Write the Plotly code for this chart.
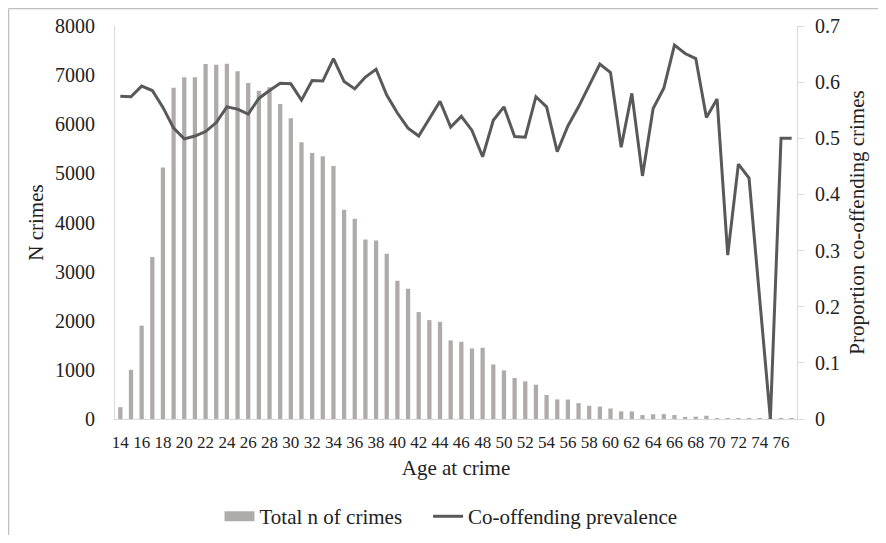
import plotly.graph_objects as go

ages = list(range(14, 78))
n_crimes = [240, 1000, 1900, 3300, 5120, 6745, 6955, 6955, 7226, 7213, 7233, 7077,
            6840, 6683, 6752, 6413, 6122, 5633, 5416, 5348, 5152, 4257, 4074, 3653,
            3633, 3362, 2813, 2650, 2176, 2013, 1979, 1600, 1572, 1436, 1450, 1111,
            989, 834, 766, 698, 488, 399, 396, 323, 270, 252, 213, 155, 155, 80,
            97, 100, 81, 40, 47, 67, 5, 12, 12, 6, 6, 2, 2, 2]
co_offending = [0.575, 0.574, 0.593, 0.585, 0.555, 0.518, 0.499, 0.504, 0.512, 0.528,
                0.556, 0.552, 0.543, 0.571, 0.585, 0.598, 0.597, 0.568, 0.603, 0.602,
                0.642, 0.601, 0.588, 0.609, 0.623, 0.577, 0.545, 0.518, 0.504, 0.536,
                0.566, 0.520, 0.539, 0.514, 0.467, 0.532, 0.556, 0.503, 0.502, 0.574,
                0.556, 0.476, 0.522, 0.556, 0.593, 0.632, 0.617, 0.484, 0.580, 0.433,
                0.553, 0.589, 0.666, 0.651, 0.642, 0.537, 0.570, 0.292, 0.454, 0.429,
                0.214, 0.0, 0.5, 0.5]
x_ticks = list(range(14, 77, 2))
left_ticks = list(range(0, 8001, 1000))
right_ticks = [0, 0.1, 0.2, 0.3, 0.4, 0.5, 0.6, 0.7]

FONT = "Liberation Serif"
TXT = "#222222"
AX = "#d9d9d9"
BAR = "#afabab"
LINE = "#595959"

OFF = 8  # page body margin
W, H = 886 - 2 * OFF, 543 - 2 * OFF
L, R, T, B = 115 - OFF, 797 - OFF, 26 - OFF, 419.3 - OFF

def px_x(p):
    return (p - OFF - L) / (R - L)

def px_y(p):
    return (B - (p - OFF)) / (B - T)

fig = go.Figure()
fig.add_trace(go.Bar(x=ages, y=n_crimes, name="Total n of crimes",
                     marker=dict(color=BAR, line=dict(width=0)), yaxis="y",
                     showlegend=False))
fig.add_trace(go.Scatter(x=[None], y=[None], name="Total n of crimes" + "\u00a0" * 4,
                         mode="lines", line=dict(color=BAR, width=10), yaxis="y",
                         showlegend=True))
fig.add_trace(go.Scatter(x=ages, y=co_offending, name="Co-offending prevalence",
                         mode="lines", line=dict(color=LINE, width=3), yaxis="y2"))

fig.update_layout(
    width=W, height=H, autosize=False,
    margin=dict(l=L, r=W - R, t=T, b=H - B, pad=0, autoexpand=False),
    paper_bgcolor="white", plot_bgcolor="white",
    font=dict(family=FONT, color=TXT, size=21),
    bargap=0.6,
    showlegend=True,
    legend=dict(orientation="h", x=px_x(451), xanchor="center", y=px_y(517), yanchor="middle",
                font=dict(size=21, family=FONT, color=TXT), itemwidth=30,
                traceorder="normal", bgcolor="rgba(0,0,0,0)"),
    xaxis=dict(range=[13.5, 77.5], tickmode="array", tickvals=x_ticks,
               ticktext=[str(v) for v in x_ticks], showgrid=False, zeroline=False,
               showline=True, linecolor=AX, linewidth=1, ticks="",
               tickfont=dict(size=17, family=FONT, color=TXT), ticklabelstandoff=8,
               title=dict(text="Age at crime", font=dict(size=21, family=FONT, color=TXT), standoff=8),
               automargin=False),
    yaxis=dict(range=[0, 8000], tickmode="array", tickvals=left_ticks,
               ticktext=[str(v) for v in left_ticks], showgrid=False, zeroline=False,
               showline=True, linecolor=AX, linewidth=1, ticks="",
               tickfont=dict(size=20, family=FONT, color=TXT), ticklabelstandoff=15,
               title=dict(text="N crimes", font=dict(size=21, family=FONT, color=TXT), standoff=5),
               automargin=False),
    yaxis2=dict(range=[0, 0.7], tickmode="array", tickvals=right_ticks,
                ticktext=["0", "0.1", "0.2", "0.3", "0.4", "0.5", "0.6", "0.7"],
                overlaying="y", side="right", showgrid=False, zeroline=False,
                showline=True, linecolor=AX, linewidth=1, ticks="outside", ticklen=6,
                tickcolor=AX, tickfont=dict(size=20, family=FONT, color=TXT),
                ticklabelstandoff=7,
                title=dict(text="Proportion co-offending crimes",
                           font=dict(size=21, family=FONT, color=TXT), standoff=10),
                automargin=False),
)

# outer frame lines (top and left edges of the chart box)
fig.add_shape(type="line", xref="paper", yref="paper",
              x0=px_x(8.5), x1=px_x(886), y0=px_y(8.5), y1=px_y(8.5),
              line=dict(color="#bfbfbf", width=1.5))
fig.add_shape(type="line", xref="paper", yref="paper",
              x0=px_x(8.5), x1=px_x(8.5), y0=px_y(8.5), y1=px_y(543),
              line=dict(color="#bfbfbf", width=1.5))

fig.write_html("out.html")
